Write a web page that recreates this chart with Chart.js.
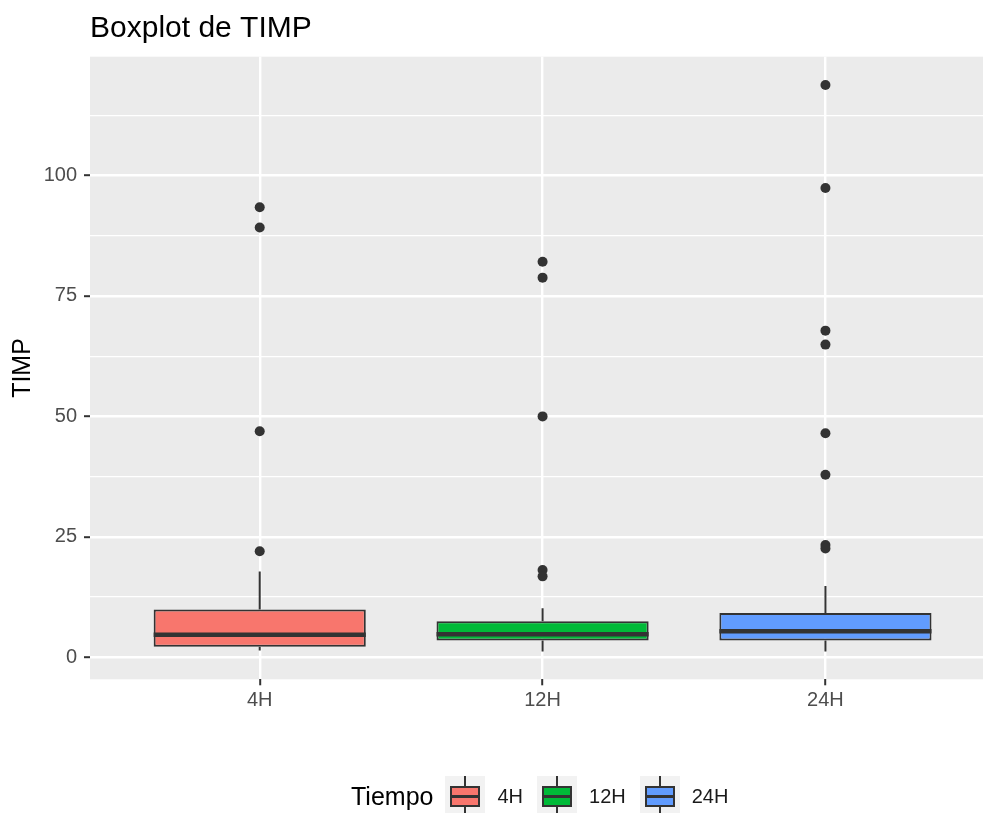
<!DOCTYPE html>
<html>
<head>
<meta charset="utf-8">
<title>Boxplot de TIMP</title>
<script src="https://cdn.jsdelivr.net/npm/chart.js@4.4.1/dist/chart.umd.min.js"></script>
<style>
  html, body { margin: 0; padding: 0; background: #fff; }
  #wrap { position: relative; width: 983px; height: 813px; overflow: hidden;
          font-family: "Liberation Sans", Arial, sans-serif; }
  #legend { position: absolute; left: 351px; top: 776px; height: 40px;
            display: flex; align-items: center; }
  #legend .ttl { font-size: 25px; color: #000; margin-right: 12px; }
  #legend .key { position: relative; width: 40px; height: 40px; background: #F2F2F2; }
  #legend .key .wh { position: absolute; left: 19px; top: 0; width: 2px; height: 40px; background: #333; }
  #legend .key .bx { position: absolute; left: 5px; top: 10px; width: 30px; height: 21px;
                     box-sizing: border-box; border: 2px solid #333; }
  #legend .key .md { position: absolute; left: 5px; top: 19px; width: 30px; height: 3px; background: #333; }
  #legend .lab { font-size: 20px; color: #1a1a1a; margin: 0 14px 0 12px; }
</style>
</head>
<body>
<div id="wrap">
  <canvas id="chart" width="983" height="813"></canvas>
  <div id="legend"><span class="ttl">Tiempo</span></div>
</div>
<script>
/* ------------------------------
   Data
   ------------------------------ */
const categories = ["4H", "12H", "24H"];
const q1 = [2.2, 3.5, 3.5];
const median = [4.7, 4.8, 5.4];
const q3 = [9.9, 7.5, 9.2];
const whiskerLow = [1.4, 1.2, 1.2];
const whiskerHigh = [17.8, 10.2, 14.8];
const outliers4H = [93.4, 89.2, 46.9, 22.0];
const outliers12H = [82.1, 78.8, 50.0, 18.1, 16.8];
const outliers24H = [118.8, 97.4, 67.8, 64.9, 46.5, 37.9, 23.3, 22.6];
const yMajorTicks = [0, 25, 50, 75, 100];
const yMinorTicks = [12.5, 37.5, 62.5, 87.5, 112.5];
const fillColors = ["#F8766D", "#00BA38", "#619CFF"];

const FONT = "'Liberation Sans', Arial, sans-serif";
const isMajor = (v) => yMajorTicks.includes(v);

/* Box dataset (floating bars) + outlier points */
const boxData = categories.map((c, i) => ({ x: i + 1, y: [q1[i], q3[i]] }));
const outlierData = [outliers4H, outliers12H, outliers24H]
  .flatMap((vals, i) => vals.map(v => ({ x: i + 1, y: v })));

/* Panel background, whiskers, medians */
const boxExtras = {
  id: "boxExtras",
  beforeDraw(chart) {
    const { ctx, chartArea: a } = chart;
    ctx.save();
    ctx.fillStyle = "#EBEBEB";
    ctx.fillRect(a.left, a.top, a.right - a.left, a.bottom - a.top);
    ctx.restore();
  },
  beforeDatasetsDraw(chart) {
    const { ctx, scales: { y } } = chart;
    const bars = chart.getDatasetMeta(0).data;
    ctx.save();
    ctx.strokeStyle = "#333333";
    ctx.lineWidth = 2;
    bars.forEach((bar, i) => {
      ctx.beginPath();
      ctx.moveTo(bar.x, y.getPixelForValue(q3[i]));
      ctx.lineTo(bar.x, y.getPixelForValue(whiskerHigh[i]));
      ctx.moveTo(bar.x, y.getPixelForValue(q1[i]));
      ctx.lineTo(bar.x, y.getPixelForValue(whiskerLow[i]));
      ctx.stroke();
    });
    ctx.restore();
  },
  afterDatasetsDraw(chart) {
    const { ctx, scales: { y } } = chart;
    const bars = chart.getDatasetMeta(0).data;
    ctx.save();
    ctx.strokeStyle = "#333333";
    ctx.lineWidth = 4.5;
    bars.forEach((bar, i) => {
      const py = y.getPixelForValue(median[i]);
      ctx.beginPath();
      ctx.moveTo(bar.x - bar.width / 2, py);
      ctx.lineTo(bar.x + bar.width / 2, py);
      ctx.stroke();
    });
    ctx.restore();
  }
};

new Chart(document.getElementById("chart"), {
  type: "bar",
  data: {
    datasets: [
      {
        data: boxData,
        backgroundColor: fillColors,
        borderColor: "#333333",
        borderWidth: 2,
        borderSkipped: false,
        barPercentage: 0.75,
        categoryPercentage: 1
      },
      {
        type: "line",
        data: outlierData,
        showLine: false,
        pointRadius: 5,
        pointBorderWidth: 0,
        pointBackgroundColor: "#333333"
      }
    ]
  },
  options: {
    responsive: false,
    animation: false,
    events: [],
    layout: { padding: 0, autoPadding: false },
    plugins: {
      legend: { display: false },
      tooltip: { enabled: false },
      title: {
        display: true,
        text: "Boxplot de TIMP",
        align: "start",
        fullSize: false,
        color: "#000",
        font: { family: FONT, size: 30, weight: "normal", lineHeight: 1.2 },
        padding: { top: 11, bottom: 9.7 }
      }
    },
    scales: {
      x: {
        type: "linear",
        min: 0.4,
        max: 3.557,
        offset: false,
        afterBuildTicks: (s) => { s.ticks = categories.map((c, i) => ({ value: i + 1 })); },
        afterFit: (s) => { s.height = 813 - 679.3; },
        ticks: {
          callback: (v) => categories[v - 1] ?? "",
          color: "#4D4D4D",
          font: { family: FONT, size: 20 },
          padding: 3,
          maxRotation: 0,
          autoSkip: false
        },
        grid: { offset: false, color: "#FFFFFF", lineWidth: 2.4, tickColor: "#333333", tickLength: 6, tickWidth: 2 },
        border: { display: false }
      },
      y: {
        min: -4.57,
        max: 124.66,
        afterBuildTicks: (s) => {
          s.ticks = [...yMajorTicks, ...yMinorTicks].sort((a, b) => a - b).map(v => ({ value: v }));
        },
        afterFit: (s) => { s.width = 90; },
        ticks: {
          callback: (v) => isMajor(v) ? String(v) : "",
          color: "#4D4D4D",
          font: { family: FONT, size: 20 },
          padding: 7
        },
        grid: {
          color: "#FFFFFF",
          lineWidth: (c) => isMajor(c.tick && c.tick.value) ? 2.4 : 1.2,
          tickColor: (c) => isMajor(c.tick && c.tick.value) ? "#333333" : "rgba(0,0,0,0)",
          tickLength: 6,
          tickWidth: 2
        },
        border: { display: false },
        title: {
          display: true,
          text: "TIMP",
          color: "#000",
          font: { family: FONT, size: 25, lineHeight: 1.2 },
          padding: { top: 8, bottom: 0 }
        }
      }
    }
  },
  plugins: [boxExtras]
});

/* HTML legend */
const legendEl = document.getElementById("legend");
categories.forEach((c, i) => {
  const key = document.createElement("div");
  key.className = "key";
  key.innerHTML = `<div class="wh"></div><div class="bx" style="background:${fillColors[i]}"></div><div class="md"></div>`;
  const lab = document.createElement("span");
  lab.className = "lab";
  lab.textContent = c;
  legendEl.appendChild(key);
  legendEl.appendChild(lab);
});
</script>
</body>
</html>
